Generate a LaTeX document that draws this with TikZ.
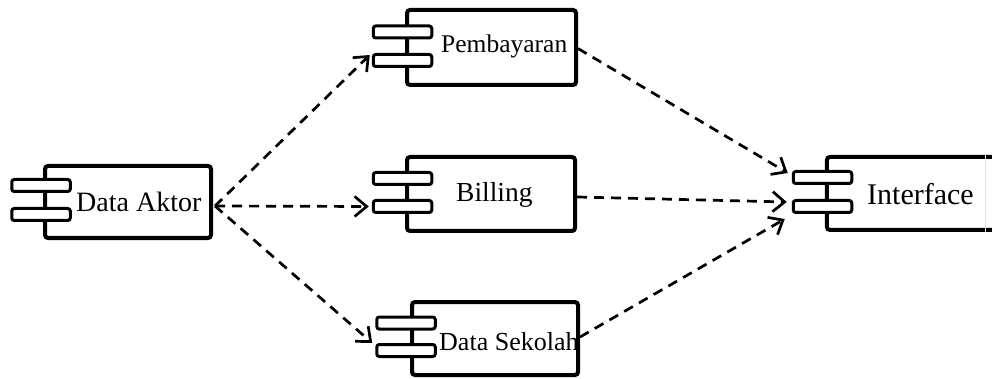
\documentclass[tikz,border=0pt]{standalone}
\usepackage{fontspec}
\setmainfont{Liberation Serif}
\usetikzlibrary{arrows.meta,calc}
\begin{document}
\begin{tikzpicture}[x=1pt,y=-1pt,
  body/.style={draw, line width=4pt, rounded corners=3pt, fill=white,
               inner sep=0pt},
  port/.style={draw, line width=3pt, rounded corners=2.5pt, fill=white,
               minimum width=58.5pt, minimum height=12pt, inner sep=0pt},
  lbl/.style={anchor=base west, inner sep=0pt},
  dep/.style={line width=2.7pt, dash pattern=on 10pt off 7pt,
              -{Straight Barb[length=12pt,width=20pt,line width=2.7pt]}}]
\useasboundingbox (0,0) rectangle (992,379);
\clip (0,0) rectangle (992,379);

% component bodies
\node[body, minimum width=166pt, minimum height=72pt] (aktor) at (128,202) {};
\node[body, minimum width=169pt, minimum height=75pt] (pemb)  at (491.5,47.5) {};
\node[body, minimum width=168pt, minimum height=74pt] (bill)  at (491,194) {};
\node[body, minimum width=166pt, minimum height=73pt] (sek)   at (495,338.5) {};
\node[body, minimum width=183pt, minimum height=73pt] (iface) at (918.4,193.5) {};
% faint right border of the Interface component
\draw[black!12, line width=1pt] ($(iface.north west)+(161,0)$) -- ($(iface.south west)+(161,0)$);

% component ports
\node[port] (aktor-p1) at (41,185.5) {};
\node[port] (aktor-p2) at (41,214.5) {};
\node[port] (pemb-p1)  at (402.5,32) {};
\node[port] (pemb-p2)  at (402.5,60.5) {};
\node[port] (bill-p1)  at (402.5,178.5) {};
\node[port] (bill-p2)  at (402.5,206.5) {};
\node[port] (sek-p1)   at (406,323) {};
\node[port] (sek-p2)   at (406,350.5) {};
\node[port] (iface-p1) at (822.5,177.5) {};
\node[port] (iface-p2) at (822.5,206.5) {};

% component names
\node[lbl, font=\fontsize{28}{30}\selectfont] (aktor-t) at (76,212) {Data Aktor};
\node[lbl, font=\fontsize{25.5}{30}\selectfont] (pemb-t)  at (441,53) {Pembayaran};
\node[lbl, font=\fontsize{27.5}{30}\selectfont] (bill-t) at (456,202) {Billing};
\node[lbl, font=\fontsize{26}{30}\selectfont] (sek-t)  at (439,350) {Data Sekolah};
\node[lbl, font=\fontsize{30}{32}\selectfont] (iface-t) at (867,205) {Interface};

% dependencies
\coordinate (aktor-out) at ($(aktor.east)+(2,4)$);
\draw[dep] (aktor-out) -- ($(pemb-p2.north west)+(-2,2)$);
\draw[dep] (aktor-out) -- ($(bill-p2.west)+(-3,0)$);
\draw[dep] (aktor-out) -- ($(sek-p2.north west)+(-3,0)$);
\draw[dep] ($(pemb.east)+(0,1)$) -- ($(iface-p1.west)+(-4,-4.5)$);
\draw[dep] ($(bill.east)+(0,3)$) -- ($(iface-p2.west)+(-5,-4.5)$);
\draw[dep] ($(sek.east)+(0,-1.5)$) -- ($(iface-p2.south west)+(-7,5)$);
\end{tikzpicture}
\end{document}
